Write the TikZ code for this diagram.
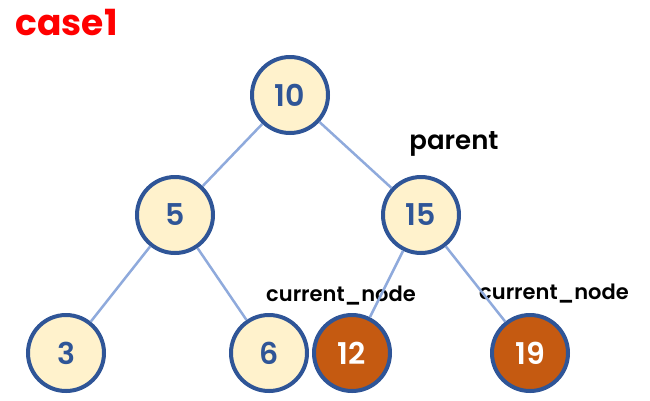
\documentclass[tikz,border=0pt]{standalone}
\usepackage{fontspec}
\setmainfont{Poppins}[BoldFont={Poppins SemiBold}]
\newfontfamily\heavyfont{Poppins Bold}

\definecolor{nodeblue}{HTML}{2F5597}
\definecolor{nodefill}{HTML}{FFF2CC}
\definecolor{edgeblue}{HTML}{8FAADC}
\definecolor{curfill}{HTML}{C55A11}

\begin{document}
\begin{tikzpicture}[x=1pt, y=-1pt, treenode/.style={circle, draw=nodeblue, line width=4pt, fill=nodefill, minimum size=76pt, inner sep=0pt, text=nodeblue, font=\fontsize{30}{32}\selectfont\bfseries}, curnode/.style={treenode, fill=curfill, text=white}, edge/.style={edgeblue, line width=2.5pt}, tag/.style={font=\fontsize{21}{24}\selectfont\bfseries}]

  \useasboundingbox (0,0) rectangle (650,400);

  \node[treenode] (n10) at (290,95) {10};
  \node[treenode] (n5) at (175,215) {5};
  \node[treenode] (n15) at (421,215) {15};
  \node[treenode] (n3) at (66,353) {3};
  \node[treenode] (n6) at (269,353) {6};
  \node[curnode] (n12) at (352,353) {12};
  \node[curnode] (n19) at (530,353) {19};

  \node[anchor=west, text=red, font=\fontsize{36}{40}\heavyfont] (title) at (12,22) {case1};
  \node[tag, font=\fontsize{26}{28}\selectfont\bfseries] (parent) at (454,144) {parent};
  \node[tag] (curleft) at (341,296) {current\_node};
  \node[tag] (curright) at (554,294) {current\_node};

  \draw[edge] (n10) -- (n5);
  \draw[edge] (n10) -- (n15);
  \draw[edge] (n5) -- (n3);
  \draw[edge] (n5) -- (n6);
  \draw[edge] (n15) -- (n12);
  \draw[edge] (n15) -- (n19);
\end{tikzpicture}
\end{document}
